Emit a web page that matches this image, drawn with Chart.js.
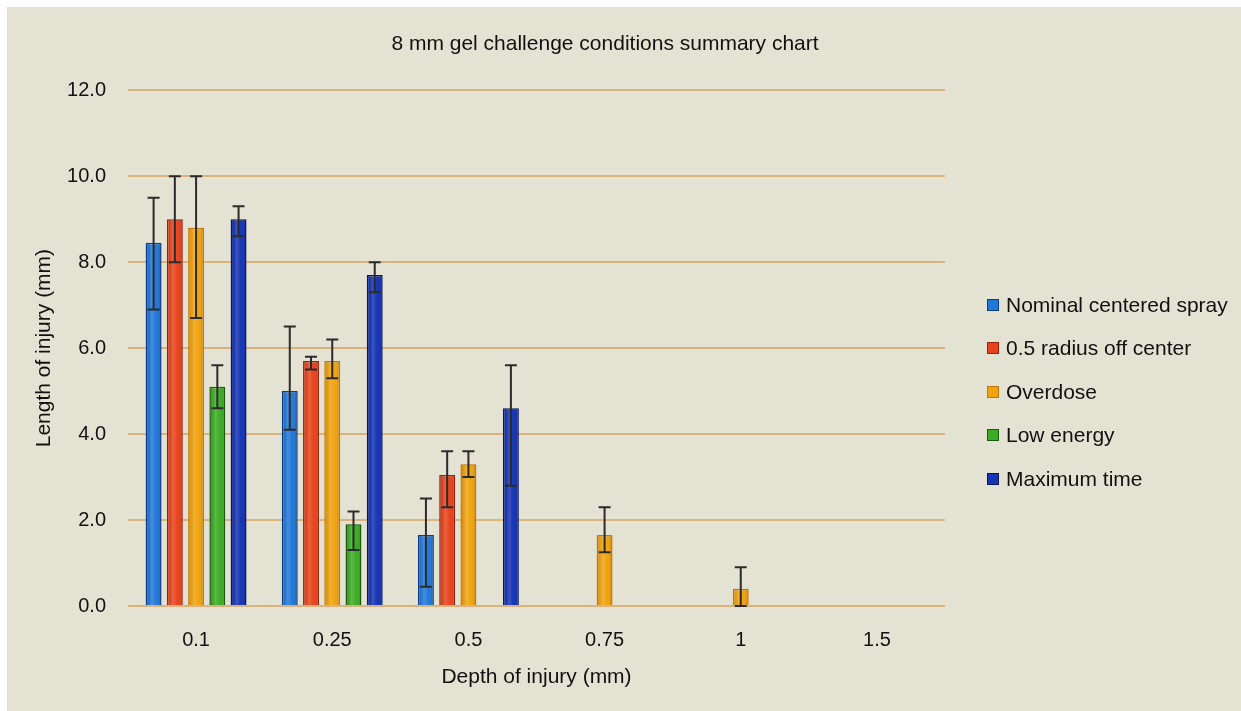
<!DOCTYPE html>
<html>
<head>
<meta charset="utf-8">
<script src="https://cdn.jsdelivr.net/npm/chart.js@4"></script>
<style>
  body { margin:0; background:#fff; font-family:"Liberation Sans", Arial, sans-serif; }
  #panel { position:absolute; left:7px; top:7px; width:1234px; height:704px; background:#e4e2d3; }
  #chartBox { position:absolute; left:0; top:0; width:1175px; height:704px; }
  #legend { position:absolute; left:980px; top:276px; }
  .item { height:43.5px; display:flex; align-items:center; font-size:21px; color:#111; }
  .swatch { width:10px; height:10px; margin-right:7px; border:1px solid #222; }
</style>
</head>
<body>
<div id="panel">
  <div id="chartBox"><canvas id="gelChart" width="1175" height="704"></canvas></div>
  <div id="legend"></div>
</div>
<script>
// depth categories (x axis)
const depths = ['0.1', '0.25', '0.5', '0.75', '1', '1.5'];

const seriesNames = ['Nominal centered spray', '0.5 radius off center', 'Overdose', 'Low energy', 'Maximum time'];
const fillColors = ['#2278d8', '#e8441c', '#f0a30e', '#3cac24', '#1634b4'];
const edgeColors = ['#0c3c86', '#982010', '#c07810', '#1c5a12', '#0a1660'];

// mean length of injury (mm)
const nominal   = [8.45, 5.0, 1.65, null, null, null];
const offCenter = [9.0, 5.7, 3.05, null, null, null];
const overdose  = [8.8, 5.7, 3.3, 1.65, 0.4, null];
const lowEnergy = [5.1, 1.9, null, null, null, null];
const maxTime   = [9.0, 7.7, 4.6, null, null, null];

// error bar ends
const nominalLo   = [6.9, 4.1, 0.45, null, null, null];
const nominalHi   = [9.5, 6.5, 2.5, null, null, null];
const offCenterLo = [8.0, 5.5, 2.3, null, null, null];
const offCenterHi = [10.0, 5.8, 3.6, null, null, null];
const overdoseLo  = [6.7, 5.3, 3.0, 1.25, 0.0, null];
const overdoseHi  = [10.0, 6.2, 3.6, 2.3, 0.9, null];
const lowEnergyLo = [4.6, 1.3, null, null, null, null];
const lowEnergyHi = [5.6, 2.2, null, null, null, null];
const maxTimeLo   = [8.6, 7.3, 2.8, null, null, null];
const maxTimeHi   = [9.3, 8.0, 5.6, null, null, null];

const yTicks = [0, 2, 4, 6, 8, 10, 12];

const values = [nominal, offCenter, overdose, lowEnergy, maxTime];
const lows = [nominalLo, offCenterLo, overdoseLo, lowEnergyLo, maxTimeLo];
const highs = [nominalHi, offCenterHi, overdoseHi, lowEnergyHi, maxTimeHi];

const FONT = '"Liberation Sans", Arial, sans-serif';

// glossy band on the bars + error whiskers on top
const errorBars = {
  id: 'errorBars',
  afterDatasetsDraw(chart) {
    const ctx = chart.ctx;
    const y = chart.scales.y;
    ctx.save();
    chart.data.datasets.forEach((ds, di) => {
      chart.getDatasetMeta(di).data.forEach((bar, i) => {
        if (ds.data[i] == null) return;
        const left = bar.x - bar.width / 2 + 1.5, right = bar.x + bar.width / 2 - 1.5;
        const g = ctx.createLinearGradient(left, 0, right, 0);
        g.addColorStop(0, 'rgba(0,0,0,0.08)');
        g.addColorStop(0.35, 'rgba(255,255,255,0.16)');
        g.addColorStop(0.7, 'rgba(255,255,255,0)');
        g.addColorStop(1, 'rgba(0,0,0,0.12)');
        ctx.fillStyle = g;
        ctx.fillRect(left, bar.y + 1, right - left, bar.base - bar.y - 1);
      });
    });
    ctx.strokeStyle = '#2b2b2b';
    ctx.lineWidth = 2;
    chart.data.datasets.forEach((ds, di) => {
      chart.getDatasetMeta(di).data.forEach((bar, i) => {
        if (ds.data[i] == null || lows[di][i] == null) return;
        const top = y.getPixelForValue(highs[di][i]);
        const bot = y.getPixelForValue(lows[di][i]);
        const x = bar.x;
        ctx.beginPath();
        ctx.moveTo(x, top); ctx.lineTo(x, bot);
        ctx.moveTo(x - 6, top); ctx.lineTo(x + 6, top);
        ctx.moveTo(x - 6, bot); ctx.lineTo(x + 6, bot);
        ctx.stroke();
      });
    });
    ctx.restore();
  }
};

new Chart(document.getElementById('gelChart'), {
  type: 'bar',
  data: {
    labels: depths,
    datasets: seriesNames.map((name, i) => ({
      label: name,
      data: values[i],
      backgroundColor: fillColors[i],
      borderColor: edgeColors[i],
      borderWidth: 1.5,
      categoryPercentage: 0.78,
      barPercentage: 0.75
    }))
  },
  options: {
    responsive: false,
    animation: false,
    layout: { padding: { left: 21, right: 0, top: 0, bottom: 17 } },
    plugins: {
      legend: { display: false },
      tooltip: { enabled: false },
      title: {
        display: true,
        text: '8 mm gel challenge conditions summary chart',
        color: '#111',
        font: { family: FONT, size: 21, weight: 'normal' },
        padding: { top: 25, bottom: 33 }
      }
    },
    scales: {
      x: {
        grid: { display: false, drawTicks: false },
        border: { display: false },
        ticks: { color: '#111', font: { family: FONT, size: 20 }, padding: 22 },
        title: { display: true, text: 'Depth of injury (mm)', color: '#111', font: { family: FONT, size: 21 } },
        afterFit(scale) { scale.height = 88; }
      },
      y: {
        min: 0,
        max: 12,
        afterBuildTicks(scale) { scale.ticks = yTicks.map(v => ({ value: v })); },
        grid: { color: '#d9b27e', lineWidth: 2, drawTicks: false },
        border: { display: false },
        ticks: {
          color: '#111',
          font: { family: FONT, size: 20 },
          padding: 22,
          callback: v => v.toFixed(1)
        },
        title: { display: true, text: 'Length of injury (mm)', color: '#111', font: { family: FONT, size: 21 } },
        afterFit(scale) { scale.width = 100; }
      },
      // empty axis that only keeps room for the legend on the right
      room: {
        position: 'right',
        min: 0,
        max: 12,
        grid: { display: false, drawTicks: false },
        border: { display: false },
        ticks: { display: false },
        afterFit(scale) { scale.width = 237; }
      }
    }
  },
  plugins: [errorBars]
});

// legend on the right
const legendBox = document.getElementById('legend');
seriesNames.forEach((name, i) => {
  const item = document.createElement('div');
  item.className = 'item';
  item.innerHTML = `<span class="swatch" style="background:${fillColors[i]};border-color:${edgeColors[i]}"></span>${name}`;
  legendBox.appendChild(item);
});
</script>
</body>
</html>
